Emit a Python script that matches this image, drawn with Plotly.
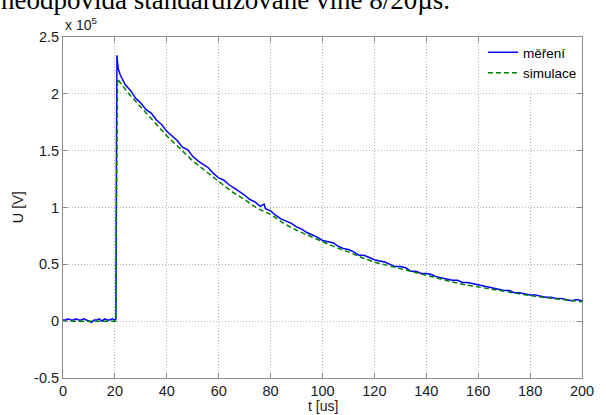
import plotly.graph_objects as go

# values in units of 10^5 V
t_meas = [0,1,2,3,4,5,6,7,8,9,10,11,12,13,14,15,16,17,18,19,20,
          20.4,20.6,20.8,21.0,21.3,21.6,22,
          24,26,28,30,32,34,36,38,40,42,44,46,48,50,52,54,56,58,60,
          62,64,66,68,70,72,74,76,77.5,78,80,82,84,86,88,90,92,94,96,98,100,
          102,104,106,108,110,112,114,116,118,120,122,124,126,128,130,
          132,134,136,138,140,142,144,146,148,150,152,154,156,158,160,
          162,164,166,168,170,172,174,176,178,180,182,184,186,188,190,
          192,194,196,198,200]
u_meas = [0.01,0.01,0.02,0.01,0.01,0.02,0.01,0.01,0.02,0.01,0.00,-0.01,0.01,0.01,0.02,0.00,0.02,0.01,0.01,0.02,0.01,
          0.02,1.50,2.34,2.28,2.22,2.19,2.17,
          2.08,2.03,1.96,1.92,1.86,1.83,1.77,1.73,1.67,1.63,1.59,1.53,1.51,1.45,1.41,1.38,1.35,1.30,1.26,
          1.24,1.20,1.17,1.14,1.11,1.07,1.05,1.01,1.03,0.99,0.97,0.93,0.90,0.88,0.86,0.83,0.81,0.78,0.76,0.74,0.71,
          0.70,0.69,0.66,0.64,0.63,0.61,0.58,0.58,0.56,0.54,0.53,0.52,0.50,0.48,0.48,
          0.47,0.44,0.44,0.42,0.42,0.41,0.39,0.38,0.37,0.36,0.36,0.34,0.34,0.33,0.32,
          0.31,0.30,0.29,0.28,0.27,0.27,0.25,0.25,0.24,0.23,0.23,0.22,0.21,0.21,0.20,
          0.20,0.19,0.18,0.19,0.18]

t_sim = [0,20.3,20.6,21,25,30,35,40,45,50,55,60,65,70,75,80,85,90,95,100,
         105,110,115,120,125,130,135,140,145,150,155,160,165,170,175,180,
         185,190,195,200]
u_sim = [0.0,0.0,1.0,2.13,2.01,1.88,1.75,1.63,1.52,1.41,1.32,1.23,1.14,1.07,0.99,0.94,0.86,0.80,0.75,0.70,
         0.65,0.61,0.56,0.52,0.49,0.46,0.43,0.40,0.37,0.345,0.32,0.30,0.28,0.26,0.24,0.225,
         0.21,0.196,0.18,0.17]

x_ticks = [0,20,40,60,80,100,120,140,160,180,200]
y_ticks = [-0.5,0,0.5,1,1.5,2,2.5]
y_ticktext = ["-0.5","0","0.5","1","1.5","2","2.5"]

fig = go.Figure()
fig.add_trace(go.Scatter(x=t_meas, y=u_meas, mode="lines", name="měření",
                         line=dict(color="#0000ff", width=1.5)))
fig.add_trace(go.Scatter(x=t_sim, y=u_sim, mode="lines", name="simulace",
                         line=dict(color="#008000", width=1.5, dash="5px,3px")))

axis_common = dict(showline=True, linecolor="#8c8c8c", linewidth=1, mirror="ticks",
                   ticks="inside", ticklen=5, tickcolor="#8c8c8c",
                   showgrid=True, gridcolor="#b5b5b5", griddash="1px,2px", gridwidth=1,
                   zeroline=False, tickfont=dict(family="Liberation Sans", size=14.5, color="#1a1a1a"))

fig.update_xaxes(range=[0, 200], tickvals=x_ticks, **axis_common)
fig.update_yaxes(range=[-0.5, 2.5], tickvals=y_ticks, ticktext=y_ticktext, **axis_common)

fig.update_layout(
    width=606, height=415,
    margin=dict(l=63, r=16, t=37, b=37),
    paper_bgcolor="white", plot_bgcolor="white",
    showlegend=True,
    legend=dict(x=1, y=1, xanchor="right", yanchor="top", bgcolor="white",
                borderwidth=0, itemwidth=30, tracegroupgap=0,
                font=dict(family="Liberation Sans", size=13.5, color="#000000")),
    annotations=[
        dict(text="neodpovídá standardizované vlně 8/20µs.", xref="paper", yref="paper",
             x=0.313, y=1.058, xanchor="center", yanchor="bottom", showarrow=False,
             font=dict(family="Liberation Serif", size=27, color="#000000")),
        dict(text="x 10<sup>5</sup>", xref="paper", yref="paper",
             x=0.0, y=1.005, xanchor="left", yanchor="bottom", showarrow=False,
             font=dict(family="Liberation Sans", size=14, color="#1a1a1a")),
        dict(text="U [V]", xref="paper", yref="paper", x=-0.087, y=0.5,
             xanchor="center", yanchor="middle", textangle=-90, showarrow=False,
             font=dict(family="Liberation Sans", size=14.5, color="#1a1a1a")),
        dict(text="t [us]", xref="paper", yref="paper", x=0.5, y=-0.054,
             xanchor="center", yanchor="top", showarrow=False,
             font=dict(family="Liberation Sans", size=14, color="#1a1a1a")),
    ],
)

fig.write_html("out.html")
